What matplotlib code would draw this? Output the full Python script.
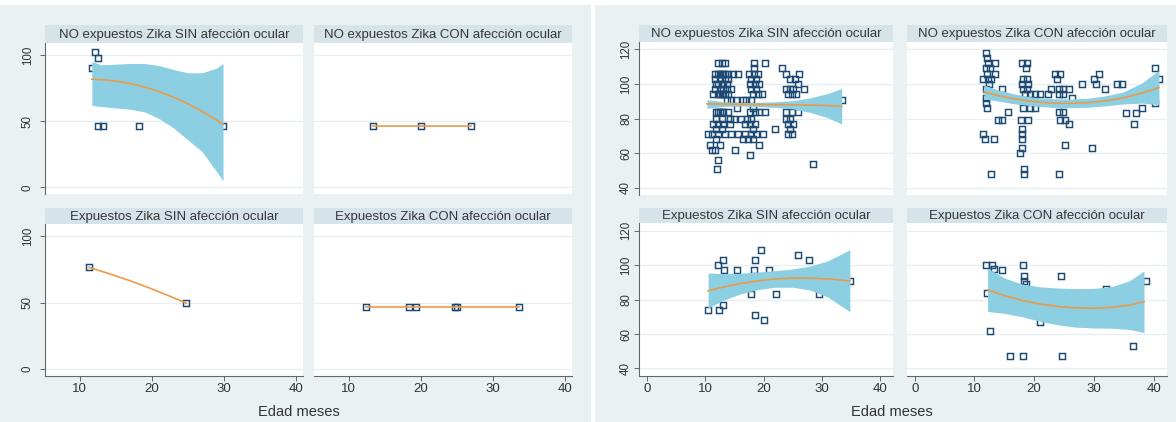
import matplotlib.pyplot as plt
from matplotlib.patches import Rectangle

plt.rcParams['font.family'] = ['Liberation Sans', 'DejaVu Sans']

W, H = 1176, 422

BG = "#e9f1f3"
STRIP = "#d6e3e9"
NAVY = "#1c4a74"
ORANGE = "#ea9a48"
CI = "#8ccfe2"
AXC = "#666666"
GRID = "#e7eff1"

titles = ["NO expuestos Zika SIN afección ocular",
          "NO expuestos Zika CON afección ocular",
          "Expuestos Zika SIN afección ocular",
          "Expuestos Zika CON afección ocular"]

# ---------------- left graph (observed values) ----------------
L_tl_x = [12.1, 11.7, 12.6, 12.6, 13.2, 18.2, 29.9]
L_tl_y = [102, 90, 98, 46.5, 46.5, 46.5, 46.5]
L_tl_fx = [11.7, 13, 15, 17, 19, 21, 23, 25, 27, 29, 29.9]
L_tl_fit = [81.6, 81.3, 80.3, 78.4, 75.8, 72.4, 68.2, 63.2, 57.4, 50.9, 47.7]
L_tl_hi = [95, 92.5, 93, 93.5, 93.5, 92, 89, 86.5, 86.5, 90, 93.5]
L_tl_lo = [62, 61, 60, 59, 57, 52, 45, 36, 27, 12, 5]

L_tr_x = [13.4, 20.0, 27.0]
L_tr_y = [46.5, 46.5, 46.5]
L_tr_fx = [13.4, 27.0]
L_tr_fit = [46.5, 46.5]

L_bl_x = [11.3, 24.8]
L_bl_y = [76.5, 49.5]
L_bl_fx = [11.3, 14, 17, 20, 22.5, 24.8]
L_bl_fit = [76.5, 71.9, 66.4, 60.3, 54.8, 49.5]

L_br_x = [12.4, 18.4, 19.3, 24.8, 25.1, 33.6]
L_br_y = [46.5, 46.5, 46.5, 46.5, 46.5, 46.5]
L_br_fx = [12.4, 33.6]
L_br_fit = [46.5, 46.5]

# ---------------- right graph (adjusted values) ----------------
R_tl_x = [
    12.2, 12.8, 13.4, 18.3, 20.3,
    18.3, 23.2,
    11.7, 12.2, 12.5, 12.8, 13.1, 13.4, 13.9, 14.8, 15.6, 17.5, 18.3, 19.1, 23.9, 26.1,
    11.7, 12.5, 13.4, 13.9, 17.9, 18.7, 24.5, 25.4,
    11.9, 12.2, 12.8, 13.1, 13.7, 17.6, 18.5, 19.3, 25.9,
    11.7, 12.5, 13.1, 13.7, 14.5, 17.9, 18.7, 23.9, 24.5, 25.0, 27.0,
    11.4, 12.2, 12.5, 12.8, 13.1, 13.4, 13.9, 18.2, 19.1, 19.7, 24.2, 24.8, 25.6,
    13.7, 14.5, 15.3, 16.5, 17.0, 17.9, 33.4,
    15.4, 18.2,
    11.9, 12.2, 12.5, 12.8, 13.1, 13.9, 17.6, 18.5, 19.3, 20.2, 23.9, 24.8, 25.9,
    11.9, 12.8, 14.2, 15.0, 16.2, 17.1, 17.9, 23.9, 24.5,
    11.4, 12.2, 13.1, 14.2, 16.8, 17.6, 18.5, 24.2, 25.1,
    11.9, 12.8, 18.2, 21.9, 24.5,
    10.5, 11.1, 12.2, 13.4, 14.5, 15.7, 16.8, 17.9, 18.7, 19.9, 24.2, 24.8,
    11.9, 16.5, 17.3, 18.2,
    10.8, 12.5, 19.3,
    11.1, 11.7, 15.1,
    17.6,
    12.2,
    28.5,
    12.1,
]
R_tl_y = [
    112, 112, 112, 112, 112,
    109, 109,
    106, 106, 106, 106, 106, 106, 106, 106, 106, 106, 106, 106, 106, 106,
    103, 103, 103, 103, 103, 103, 103, 103,
    100, 100, 100, 100, 100, 100, 100, 100, 100,
    97, 97, 97, 97, 97, 97, 97, 97, 97, 97, 97,
    94, 94, 94, 94, 94, 94, 94, 94, 94, 94, 94, 94, 94,
    91, 91, 91, 91, 91, 91, 91,
    86, 86,
    84, 84, 84, 84, 84, 84, 84, 84, 84, 84, 84, 84, 84,
    80, 80, 80, 80, 80, 80, 80, 80, 80,
    77, 77, 77, 77, 77, 77, 77, 77, 77,
    74, 74, 74, 74, 74,
    71, 71, 71, 71, 71, 71, 71, 71, 71, 71, 71, 71,
    68, 68, 68, 68,
    65, 65, 65,
    62, 62, 62,
    59,
    56,
    54,
    51,
]
R_tl_fx = [10.3, 13, 16, 19, 22, 25, 28, 31, 33.4]
R_tl_fit = [88.5, 88.4, 88.3, 88.2, 88.1, 88.0, 87.8, 87.5, 87.2]
R_tl_hi = [91.0, 89.8, 89.3, 89.4, 89.7, 90.4, 92.0, 94.5, 97.5]
R_tl_lo = [86.0, 87.0, 87.3, 87.0, 86.5, 85.6, 83.6, 80.5, 76.9]

R_tr_x = [
    12.0,
    12.1,
    12.2, 13.4, 17.9, 18.8,
    11.9, 12.6, 18.6, 40.3,
    12.1, 13.4, 23.5, 24.4, 30.8,
    11.4, 12.3, 12.8, 18.2, 18.8, 23.8, 30.0, 40.9,
    12.5, 18.0, 19.0, 28.0, 30.3, 33.9, 34.7,
    12.0, 14.6, 18.2, 18.8, 22.9, 24.1, 24.9, 25.8, 31.9,
    12.5, 18.5, 19.3, 20.2, 21.0, 22.4, 24.1, 24.9,
    11.9, 26.3,
    12.0, 40.3,
    12.1, 18.2, 19.3, 20.2, 38.1,
    24.2, 24.9, 15.7,
    35.3, 37.0,
    14.0, 14.6, 17.8, 18.9, 24.4, 25.2,
    25.8, 36.7,
    17.9,
    11.4, 17.9,
    11.8, 13.3, 17.9,
    25.2,
    17.9, 29.7,
    17.6,
    18.3,
    12.7, 18.3, 24.1,
]
R_tr_y = [
    118,
    115,
    112, 112, 112, 112,
    109, 109, 109, 109,
    106, 106, 106, 106, 106,
    103, 103, 103, 103, 103, 103, 103, 103,
    100, 100, 100, 100, 100, 100, 100,
    97, 97, 97, 97, 97, 97, 97, 97, 97,
    94, 94, 94, 94, 94, 94, 94, 94,
    92, 92,
    89, 89,
    86, 86, 86, 86, 86,
    84, 84, 84,
    83, 83,
    79, 79, 79, 79, 79, 79,
    77, 77,
    74,
    71, 71,
    68, 68, 68,
    65,
    63, 63,
    60,
    51,
    48, 48, 48,
]
R_tr_fx = [11.6, 14, 17, 20, 23, 26, 29, 32, 35, 38, 40.9]
R_tr_fit = [95.5, 93.3, 91.2, 89.8, 89.0, 88.8, 89.2, 90.3, 92.0, 94.7, 98.0]
R_tr_hi = [99.5, 96.5, 94.0, 92.3, 91.5, 91.3, 91.8, 93.2, 95.5, 100.5, 108.0]
R_tr_lo = [91.5, 90.1, 88.4, 87.3, 86.5, 86.3, 86.6, 87.4, 88.5, 89.0, 88.0]

R_bl_x = [10.4, 12.4, 13.0, 12.2, 13.1, 13.3, 15.4, 17.8, 18.3, 18.6,
          19.5, 18.5, 20.1, 21.0, 22.2, 25.9, 27.8, 29.5, 34.8]
R_bl_y = [74, 74, 77, 100, 103, 97, 97, 83, 97, 103,
          109, 71, 68, 97, 83, 106, 103, 83, 91]
R_bl_fx = [10.5, 13, 16, 19, 22, 25, 28, 31, 34.8]
R_bl_fit = [85.2, 87.2, 89.3, 90.9, 92.0, 92.5, 92.5, 92.0, 90.9]
R_bl_hi = [95.5, 95.0, 95.3, 96.0, 96.8, 97.8, 99.5, 102.5, 109.0]
R_bl_lo = [75.0, 79.5, 83.3, 85.8, 87.2, 87.2, 85.5, 81.5, 73.0]

R_br_x = [12.0, 12.9, 13.2, 14.6, 18.2, 18.3, 18.3, 18.6, 24.5,
          12.1, 12.6, 16.0, 18.2, 24.7, 36.6, 38.8, 32.1, 21.0]
R_br_y = [100, 100, 98, 97, 100, 94, 91, 89, 94,
          84, 62, 47, 47, 47, 53, 91, 86, 67]
R_br_fx = [12.2, 15, 18, 21, 24, 27, 30, 33, 36, 38.4]
R_br_fit = [85.7, 82.3, 79.5, 77.4, 76.0, 75.2, 75.0, 75.5, 76.8, 78.8]
R_br_hi = [98.3, 92.6, 89.0, 87.4, 86.7, 86.4, 86.5, 87.6, 91.0, 96.7]
R_br_lo = [73.1, 72.0, 70.0, 67.4, 65.3, 64.0, 63.5, 63.4, 62.6, 60.9]


fig = plt.figure(figsize=(W / 100, H / 100), dpi=100)
fig.patch.set_facecolor("white")

# graph backgrounds (two separate Stata graphs side by side)
for x0, x1 in [(0, 591), (595, 1176)]:
    fig.patches.append(Rectangle((x0 / W, 0), (x1 - x0) / W, (H - 5) / H,
                                 transform=fig.transFigure, facecolor=BG,
                                 edgecolor="none", zorder=-10))


def box(x0, y0, x1, y1):
    return [x0 / W, 1 - y1 / H, (x1 - x0) / W, (y1 - y0) / H]


def panel(pbox, sbox, title, xs, ys, fx, fit, lo, hi, xlim, ylim, yticks,
          xticks, left, bottom, ypad):
    st = fig.add_axes(box(*sbox))
    st.set_facecolor(STRIP)
    st.set_xticks([])
    st.set_yticks([])
    for s in st.spines.values():
        s.set_visible(False)
    st.text(0.5, 0.45, title, ha="center", va="center", fontsize=9.5,
            color="#363636", transform=st.transAxes)

    ax = fig.add_axes(box(*pbox))
    ax.set_facecolor("white")
    for yv in yticks:
        ax.axhline(yv, color=GRID, lw=0.9, zorder=1)
    ax.plot(xs, ys, ls="none", marker="s", ms=4.0, mfc="none", mec=NAVY,
            mew=1.05, zorder=2)
    if lo is not None:
        ax.fill_between(fx, lo, hi, color=CI, lw=0, zorder=3)
    ax.plot(fx, fit, color=ORANGE, lw=1.2, zorder=4)
    ax.set_xlim(*xlim)
    ax.set_ylim(*ylim)
    for s in ["top", "right"]:
        ax.spines[s].set_visible(False)
    ax.spines["left"].set_visible(left)
    ax.spines["bottom"].set_visible(bottom)
    ax.spines["left"].set_color(AXC)
    ax.spines["bottom"].set_color(AXC)
    ax.spines["left"].set_linewidth(0.8)
    ax.spines["bottom"].set_linewidth(0.8)
    ax.set_yticks(yticks)
    ax.set_xticks(xticks)
    ax.tick_params(axis="y", left=left, labelleft=left, length=3.5,
                   width=0.7, color=AXC, pad=ypad, labelsize=8.3,
                   labelcolor="#333333")
    ax.tick_params(axis="x", bottom=bottom, labelbottom=bottom, length=3.5,
                   width=0.7, color=AXC, pad=2, labelsize=9.5,
                   labelcolor="#333333")
    for lab in ax.get_yticklabels():
        lab.set_rotation(90)
        lab.set_va("center")
    return ax


# left graph layout
Lx = [(45, 303), (314, 572)]
Lrows = [((25, 42.7), (42.7, 194.3)), ((208.3, 224), (224, 375.7))]
Llim = (5.2, 41.0)
Lylim = (-5.2, 109.2)
Lyt = [0, 50, 100]
Lxt = [10, 20, 30, 40]
left_data = [
    (L_tl_x, L_tl_y, L_tl_fx, L_tl_fit, L_tl_lo, L_tl_hi),
    (L_tr_x, L_tr_y, L_tr_fx, L_tr_fit, None, None),
    (L_bl_x, L_bl_y, L_bl_fx, L_bl_fit, None, None),
    (L_br_x, L_br_y, L_br_fx, L_br_fit, None, None),
]

# right graph layout
Rx = [(639, 893), (906.7, 1166.7)]
Rrows = [((25, 41.7), (41.7, 195)), ((208, 223), (223, 375.7))]
Rlim = (-1.35, 42.2)
Rylim = (35.8, 124.5)
Ryt = [40, 60, 80, 100, 120]
Rxt = [0, 10, 20, 30, 40]
right_data = [
    (R_tl_x, R_tl_y, R_tl_fx, R_tl_fit, R_tl_lo, R_tl_hi),
    (R_tr_x, R_tr_y, R_tr_fx, R_tr_fit, R_tr_lo, R_tr_hi),
    (R_bl_x, R_bl_y, R_bl_fx, R_bl_fit, R_bl_lo, R_bl_hi),
    (R_br_x, R_br_y, R_br_fx, R_br_fit, R_br_lo, R_br_hi),
]

for cols, rows, xlim, ylim, yt, xt, data, ypad in [
        (Lx, Lrows, Llim, Lylim, Lyt, Lxt, left_data, 4.5),
        (Rx, Rrows, Rlim, Rylim, Ryt, Rxt, right_data, 1.5)]:
    for i in range(4):
        r, c = divmod(i, 2)
        (sy0, sy1), (py0, py1) = rows[r]
        x0, x1 = cols[c]
        xs, ys, fx, fit, lo, hi = data[i]
        panel((x0, py0, x1, py1), (x0, sy0, x1, sy1), titles[i], xs, ys,
              fx, fit, lo, hi, xlim, ylim, yt, xt, c == 0, r == 1, ypad)

fig.text(298.5 / W, 1 - 411.5 / H, "Edad meses", ha="center", va="center",
         fontsize=10.5, color="#333333")
fig.text(892 / W, 1 - 411.5 / H, "Edad meses", ha="center", va="center",
         fontsize=10.5, color="#333333")

fig.savefig("out.png", dpi=100, facecolor=fig.get_facecolor())
